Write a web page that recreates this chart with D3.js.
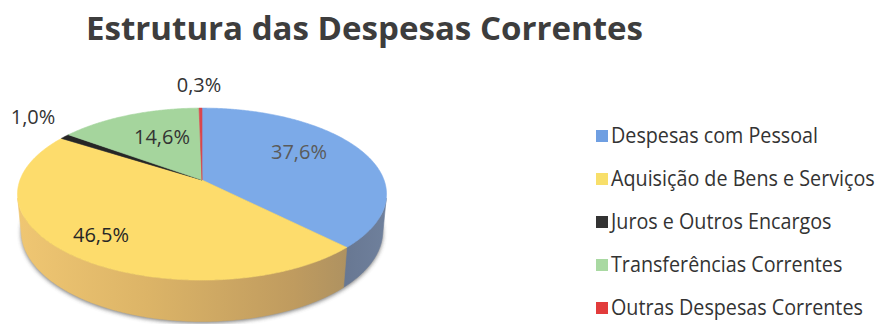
<!DOCTYPE html>
<html>
<head>
<meta charset="utf-8">
<script src="https://cdn.jsdelivr.net/npm/d3@7"></script>
<style>
  html, body { margin: 0; padding: 0; background: #fff; }
  svg { display: block; }
  text { font-family: "Open Sans", "Noto Sans", sans-serif; }
</style>
</head>
<body>
<svg id="chart" width="881" height="324"></svg>
<script>
// Current expenditure structure (share of total, %)
const categories = [
  "Despesas com Pessoal",
  "Aquisição de Bens e Serviços",
  "Juros e Outros Encargos",
  "Transferências Correntes",
  "Outras Despesas Correntes"
];
const values = [37.6, 46.5, 1.0, 14.6, 0.3];
const valueLabels = ["37,6%", "46,5%", "1,0%", "14,6%", "0,3%"];
const topColors = ["#7caae8", "#fddc6c", "#262626", "#a5d59d", "#d9464e"];
const legendColors = ["#6f9fe2", "#f8df6a", "#333333", "#a9d9a2", "#e23b3b"];
const chartTitle = "Estrutura das Despesas Correntes";

const svg = d3.select("#chart");
const defs = svg.append("defs");

// ---- 3D pie projection (perspective view of a tilted disc) ----
const vx = 202, vy = 180;        // projected centre of the top face
const kx = 182, ky = 180;        // pixel scale
const D = 5.4;                   // camera distance (in radii)
const sb = 0.465, cb = Math.sqrt(1 - sb * sb);  // tilt
const H = 0.235;                 // thickness (in radii)

function proj(theta, Y) {
  const X = Math.sin(theta), Z = -Math.cos(theta);
  const up = Y * cb - Z * sb;
  const depth = Y * sb + Z * cb;
  const s = D / (D - depth);
  return [vx + kx * X * s, vy - ky * up * s];
}
function arcPoints(a0, a1, Y) {
  const n = Math.max(2, Math.ceil(Math.abs(a1 - a0) / (Math.PI / 360)));
  return d3.range(n + 1).map(i => proj(a0 + (a1 - a0) * i / n, Y));
}
const line = d3.line();

const pie = d3.pie().sort(null).value(d => d)(values);

// soft shadow under the pie
const blur = defs.append("filter").attr("id", "shadow")
  .attr("x", "-10%").attr("y", "-10%").attr("width", "120%").attr("height", "130%");
blur.append("feGaussianBlur").attr("stdDeviation", 2.2);

svg.append("path")
  .attr("d", line(arcPoints(0, 2 * Math.PI, -H)) + "Z")
  .attr("transform", "translate(0,1.5)")
  .attr("fill", "#4a4a4a")
  .attr("opacity", 0.75)
  .attr("filter", "url(#shadow)");

// side wall gradients
const wallStops = [
  [["0", "#6c7b95"], ["0.6", "#56627a"], ["1", "#6f809c"]],
  [["0", "#efc672"], ["0.35", "#dcb467"], ["0.75", "#bf9b5f"], ["1", "#a28b62"]],
  [["0", "#1e1e1e"], ["1", "#1e1e1e"]],
  [["0", "#86b080"], ["1", "#86b080"]],
  [["0", "#b23a40"], ["1", "#b23a40"]]
];
wallStops.forEach((stops, i) => {
  const g = defs.append("linearGradient").attr("id", "wall" + i)
    .attr("gradientUnits", "userSpaceOnUse")
    .attr("x1", 20).attr("x2", 386).attr("y1", 0).attr("y2", 0);
  stops.forEach(([o, c]) => g.append("stop").attr("offset", o).attr("stop-color", c));
});

// outer wall: only the part facing the viewer
const visMin = Math.acos(-1 / (D * cb));
const visMax = 2 * Math.PI - visMin;
const walls = svg.append("g");
pie.forEach((d, i) => {
  const a0 = Math.max(d.startAngle, visMin);
  const a1 = Math.min(d.endAngle, visMax);
  if (a1 <= a0) return;
  const pts = arcPoints(a0, a1, 0).concat(arcPoints(a1, a0, -H));
  walls.append("path")
    .attr("d", line(pts) + "Z")
    .attr("fill", `url(#wall${i})`)
    .attr("stroke", `url(#wall${i})`)
    .attr("stroke-width", 0.6);
});

// top face
const topFace = svg.append("g");
pie.forEach((d, i) => {
  const pts = [[vx, vy]].concat(arcPoints(d.startAngle, d.endAngle, 0));
  topFace.append("path")
    .attr("d", line(pts) + "Z")
    .attr("fill", topColors[i])
    .attr("stroke", topColors[i])
    .attr("stroke-width", 0.6)
    .attr("stroke-linejoin", "round");
});

// data labels
const labelPos = [
  { x: 299, y: 159, fill: "#5a5a5a" },
  { x: 101, y: 242, fill: "#262626" },
  { x: 33,  y: 124, fill: "#333333" },
  { x: 162, y: 144, fill: "#333333" },
  { x: 199, y: 92,  fill: "#333333" }
];
svg.append("g").selectAll("text")
  .data(valueLabels)
  .join("text")
  .attr("x", (d, i) => labelPos[i].x)
  .attr("y", (d, i) => labelPos[i].y)
  .attr("text-anchor", "middle")
  .attr("font-size", 20)
  .attr("fill", (d, i) => labelPos[i].fill)
  .text(d => d);

// title
svg.append("text")
  .attr("x", 86).attr("y", 40)
  .attr("font-size", 32)
  .attr("font-weight", 700)
  .attr("fill", "#3d3d3d")
  .attr("textLength", 557)
  .attr("lengthAdjust", "spacingAndGlyphs")
  .text(chartTitle);

// legend
const legendY = d3.scalePoint().domain(categories).range([136, 308]);
const legend = svg.append("g");
const rows = legend.selectAll("g").data(categories).join("g")
  .attr("transform", d => `translate(596,${legendY(d)})`);
rows.append("rect")
  .attr("x", 0).attr("y", -6)
  .attr("width", 12).attr("height", 12)
  .attr("fill", (d, i) => legendColors[i]);
const lt = rows.append("text")
  .attr("font-size", 21)
  .attr("fill", "#333333")
  .text(d => d);
// condense the legend text horizontally so the longest entry fits its column
const squeeze = 264 / d3.max(lt.nodes(), n => n.getComputedTextLength());
lt.attr("transform", `translate(15,7) scale(${squeeze},1)`);
</script>
</body>
</html>
